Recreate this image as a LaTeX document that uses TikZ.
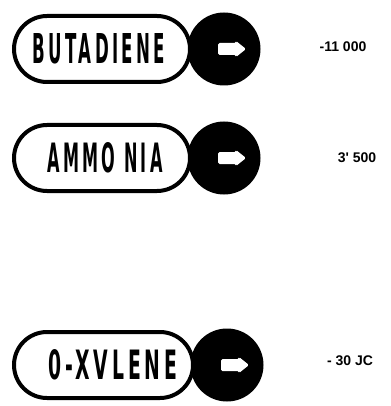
\documentclass[tikz,border=0pt]{standalone}
\usepackage{fontspec}
\usetikzlibrary{calc}
\setmainfont{DejaVu Sans}
\newfontfamily\pillfont[LetterSpace=18]{DejaVu Sans Condensed}
\newfontfamily\labelfont{Liberation Sans}
\begin{document}
\begin{tikzpicture}[x=1pt,y=-1pt,
  pillbox/.style={draw=black,line width=4pt,rounded corners=33pt,fill=white},
  disc/.style={circle,fill=black,minimum size=73pt,inner sep=0pt},
  nametext/.style={inner sep=0pt,font=\pillfont\bfseries},
  valtext/.style={inner sep=0pt,font=\labelfont\bfseries\fontsize{14}{14}\selectfont}]
\useasboundingbox (0,0) rectangle (390,406);
% row 1
\node[disc] (c1) at (224,49) {};
\draw[pillbox] (14,16) rectangle (190,82);
\node[nametext] (t1) at (99,49) {\resizebox{132pt}{30pt}{BUTADIENE}};
\node[valtext] (v1) at (343,47) {-11 000};
% row 2
\node[disc] (c2) at (224,158) {};
\draw[pillbox] (14,125) rectangle (190,191);
\node[nametext] (t2) at (105,158) {\resizebox{115pt}{30pt}{AMMO NIA}};
\node[valtext] (v2) at (357,158) {3' 500};
% row 3
\node[disc] (c3) at (227,365) {};
\draw[pillbox] (14,332) rectangle (193,398);
\node[nametext] (t3) at (113,365) {\resizebox{128pt}{30pt}{0-XVLENE}};
\node[valtext] (v3) at (350,361) {- 30 JC};
% arrows
\foreach \c in {c1,c2,c3}{
  \fill[white,rounded corners=1.5pt] ($(\c)+(-6,-6)$) -- ($(\c)+(12,-6)$) -- ($(\c)+(12,-8)$) -- ($(\c)+(22,0)$) -- ($(\c)+(12,8)$) -- ($(\c)+(12,6)$) -- ($(\c)+(-6,6)$) -- cycle;
}
\end{tikzpicture}
\end{document}
